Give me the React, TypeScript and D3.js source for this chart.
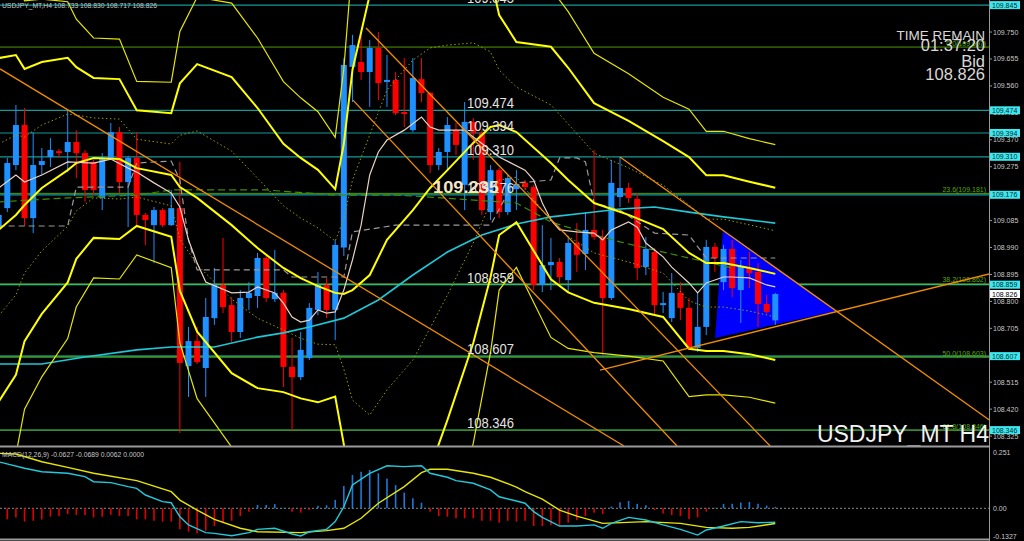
import React from "react";
import * as d3 from "d3";

// ---------- candles (H4 USDJPY) ----------
const opens = [109.059,109.129,109.281,109.422,109.094,109.281,109.309,109.330,109.327,109.362,109.323,109.292,109.165,109.306,109.397,109.221,109.306,109.105,109.069,109.122,109.069,109.129,108.572,108.660,108.565,108.741,108.858,108.787,108.692,108.812,108.819,108.953,108.808,108.830,108.569,108.533,108.600,108.770,108.858,108.770,108.990,109.627,109.644,109.609,109.694,109.574,109.581,109.468,109.404,109.584,109.535,109.281,109.327,109.404,109.211,109.433,109.394,109.115,109.263,109.115,109.196,109.218,109.203,108.858,108.928,108.939,108.875,109.006,108.967,109.052,109.027,108.812,109.168,109.200,109.161,108.921,108.974,108.787,108.741,108.830,108.777,108.636,108.710,108.992,108.868,108.985,108.840,108.918,108.904,108.791,108.733];
const highs = [109.129,109.306,109.493,109.482,109.397,109.341,109.376,109.337,109.475,109.404,109.334,109.299,109.323,109.429,109.415,109.313,109.397,109.112,109.133,109.129,109.193,109.292,108.710,108.710,108.812,108.918,109.024,108.815,108.840,108.868,108.971,108.960,108.981,108.840,108.671,108.692,108.794,108.904,108.882,109.017,109.658,109.740,109.757,109.722,109.750,109.669,109.609,109.658,109.658,109.658,109.539,109.341,109.450,109.429,109.503,109.447,109.404,109.281,109.270,109.246,109.263,109.228,109.211,109.069,109.024,108.953,109.024,109.076,109.115,109.334,109.052,109.299,109.309,109.218,109.182,109.027,108.988,108.833,108.900,108.868,108.812,108.830,109.017,109.006,108.999,109.017,108.946,108.974,108.935,108.823,108.830];
const lows = [109.045,109.115,109.263,109.066,109.041,109.246,109.274,109.306,109.256,109.235,109.151,109.175,109.122,109.299,109.182,109.062,109.062,108.999,108.935,109.062,109.066,108.336,108.463,108.579,108.463,108.717,108.759,108.657,108.671,108.770,108.777,108.798,108.798,108.498,108.346,108.523,108.593,108.752,108.741,108.664,108.960,109.503,109.581,109.486,109.510,109.486,109.457,109.415,109.397,109.503,109.253,109.263,109.263,109.316,109.122,109.299,109.105,109.087,109.094,109.105,109.122,109.193,108.840,108.833,108.840,108.865,108.833,108.904,108.911,109.017,108.611,108.805,109.133,109.147,108.875,108.893,108.752,108.759,108.727,108.734,108.629,108.622,108.681,108.904,108.840,108.815,108.724,108.847,108.710,108.756,108.717];
const closes = [109.105,109.288,109.422,109.094,109.281,109.295,109.334,109.323,109.362,109.323,109.193,109.193,109.306,109.397,109.221,109.306,109.105,109.087,109.122,109.069,109.129,108.583,108.660,108.586,108.745,108.858,108.780,108.692,108.812,108.830,108.953,108.812,108.830,108.569,108.533,108.629,108.777,108.858,108.770,108.999,109.634,109.704,109.609,109.694,109.570,109.581,109.464,109.461,109.588,109.535,109.281,109.327,109.422,109.352,109.433,109.394,109.122,109.263,109.115,109.235,109.214,109.203,108.858,108.928,108.939,108.886,109.006,108.964,109.052,109.027,108.812,109.218,109.200,109.165,108.918,108.985,108.787,108.794,108.830,108.777,108.639,108.710,108.992,108.953,108.985,108.847,108.921,108.900,108.791,108.763,108.826];

// ---------- Bollinger bands (sampled at bar indices) ----------
const bbIdx = [0,2,3,5,8,9,11,14,16,20,21,23,27,30,33,35,37,39,40,41,43,45,48,50,52,55,57,58,60,64,66,69,73,77,80,82,84,87,90];
const bbMid = [109.052,109.105,109.140,109.200,109.263,109.288,109.306,109.302,109.270,109.246,109.203,109.165,109.069,108.988,108.918,108.882,108.854,108.830,108.826,108.840,108.893,109.017,109.122,109.200,109.263,109.359,109.415,109.422,109.397,109.288,109.228,109.147,109.105,109.055,108.971,108.935,108.935,108.918,108.897];
const bbUp2 = [109.658,109.669,109.620,109.644,109.659,109.626,109.588,109.584,109.474,109.464,109.569,109.637,109.591,109.482,109.356,109.306,109.264,109.196,109.356,109.616,109.881,110.075,110.180,110.188,110.145,110.065,109.945,109.810,109.715,109.698,109.624,109.499,109.437,109.365,109.309,109.245,109.245,109.222,109.201];
const bbLo2 = [108.446,108.541,108.660,108.756,108.867,108.950,109.024,109.020,109.066,109.028,108.837,108.693,108.547,108.494,108.480,108.458,108.444,108.464,108.296,108.064,107.905,107.959,108.064,108.212,108.381,108.653,108.885,109.034,109.079,108.878,108.832,108.795,108.773,108.745,108.633,108.625,108.625,108.614,108.593];
const bbUp3 = [109.961,109.951,109.860,109.866,109.857,109.795,109.729,109.725,109.576,109.573,109.752,109.873,109.852,109.729,109.575,109.518,109.469,109.379,109.621,110.004,110.375,110.604,110.709,110.682,110.586,110.418,110.210,110.004,109.874,109.903,109.822,109.675,109.603,109.520,109.478,109.400,109.400,109.374,109.353];
const bbLo3 = [108.143,108.259,108.420,108.534,108.669,108.781,108.883,108.879,108.964,108.919,108.654,108.457,108.286,108.247,108.261,108.246,108.239,108.281,108.031,107.676,107.411,107.430,107.535,107.718,107.940,108.300,108.620,108.840,108.920,108.673,108.634,108.619,108.607,108.590,108.464,108.470,108.470,108.462,108.441];
const bbUp1 = [109.355,109.387,109.380,109.422,109.461,109.457,109.447,109.443,109.372,109.355,109.386,109.401,109.330,109.235,109.137,109.094,109.059,109.013,109.091,109.228,109.387,109.546,109.651,109.694,109.704,109.712,109.680,109.616,109.556,109.493,109.426,109.323,109.271,109.210,109.140,109.090,109.090,109.070,109.049];
const bbLo1 = [108.749,108.823,108.900,108.978,109.065,109.119,109.165,109.161,109.168,109.137,109.020,108.929,108.808,108.741,108.699,108.670,108.649,108.647,108.561,108.452,108.399,108.488,108.593,108.706,108.822,109.006,109.150,109.228,109.238,109.083,109.030,108.971,108.939,108.900,108.802,108.780,108.780,108.766,108.745];

// ---------- other moving lines ----------
const fastIdx = [0,2,3,5,8,11,13,15,16,18,20,21,22,23,24,27,29,30,32,33,34,35,36,37,38,39,40,41,42,43,44,45,47,49,50,51,54,55,57,58,61,62,63,64,65,67,69,70,71,73,74,75,77,78,80,81,82,84,85,87,89,90];
const fastMA = [109.200,109.246,109.221,109.246,109.292,109.288,109.302,109.270,109.256,109.218,109.182,109.133,109.017,108.935,108.868,108.830,108.833,108.851,108.830,108.794,108.745,108.727,108.734,108.770,108.759,108.763,108.840,108.946,109.069,109.246,109.327,109.369,109.404,109.450,109.415,109.404,109.404,109.380,109.334,109.309,109.263,109.228,109.147,109.087,109.052,109.045,109.041,109.017,109.052,109.080,109.062,109.006,108.957,108.921,108.865,108.830,108.865,108.886,108.886,108.883,108.858,108.851];
const kijunIdx = [0,8,9,15,16,20,21,22,23,33,34,40,41,46,57,59,60,64,65,67,68,69,72,76,80,82,90];
const kijun = [109.066,109.066,109.203,109.203,109.288,109.295,109.228,109.017,108.911,108.911,108.886,108.886,109.045,109.069,109.069,109.182,109.218,109.228,109.306,109.306,109.292,109.147,109.122,109.041,109.034,108.953,108.953];
const greenIdx = [0,8,16,20,31,39,46,50,60,64,67,72,76,81,85];
const greenLine = [109.151,109.165,109.175,109.193,109.193,109.175,109.175,109.168,109.147,109.080,109.052,109.010,108.981,108.946,108.918];
const cyanIdx = [0,5,10,16,20,25,30,33,36,40,44,48,52,56,60,64,68,72,76,80,84,90];
const cyanMA = [108.579,108.579,108.604,108.629,108.639,108.639,108.674,108.689,108.710,108.741,108.805,108.893,108.974,109.034,109.073,109.098,109.112,109.126,109.133,109.115,109.098,109.076];

// ---------- MACD ----------
const macdIdx = [0,3,5,8,10,11,13,15,16,17,19,20,21,22,24,25,27,29,30,32,34,35,36,38,39,40,41,43,45,47,49,50,52,53,55,57,58,60,61,62,63,65,67,69,70,71,73,75,77,79,81,82,84,86,88,90];
const macdMain = [0.210,0.181,0.165,0.158,0.143,0.120,0.116,0.098,0.090,0.060,0.030,0.025,-0.038,-0.075,-0.110,-0.113,-0.124,-0.110,-0.095,-0.090,-0.116,-0.125,-0.106,-0.095,-0.060,0.007,0.105,0.158,0.192,0.188,0.192,0.158,0.140,0.125,0.113,0.083,0.052,0.033,0.023,-0.015,-0.041,-0.080,-0.080,-0.075,-0.090,-0.068,-0.041,-0.053,-0.075,-0.095,-0.121,-0.098,-0.080,-0.060,-0.065,-0.0627];
const sigIdx = [0,2,5,8,11,16,20,21,23,25,28,30,35,38,40,42,44,47,49,50,52,55,57,60,61,63,65,67,70,75,79,82,85,87,90];
const macdSignal = [0.248,0.245,0.210,0.185,0.158,0.125,0.075,0.037,-0.008,-0.050,-0.090,-0.106,-0.110,-0.101,-0.090,-0.045,0.023,0.098,0.161,0.176,0.176,0.158,0.140,0.096,0.075,0.041,-0.008,-0.035,-0.068,-0.060,-0.068,-0.086,-0.090,-0.086,-0.0689];
const macdHist = [-0.045,-0.050,-0.041,-0.060,-0.056,-0.050,-0.038,-0.035,-0.026,-0.030,-0.030,-0.041,-0.038,-0.029,-0.035,-0.035,-0.050,-0.050,-0.056,-0.060,-0.060,-0.095,-0.105,-0.113,-0.101,-0.080,-0.065,-0.056,-0.035,-0.015,0.015,0.015,0.019,0.002,-0.015,-0.020,-0.008,0.011,0.014,0.038,0.101,0.150,0.165,0.173,0.158,0.135,0.105,0.071,0.045,0.025,-0.015,-0.035,-0.038,-0.045,-0.045,-0.045,-0.056,-0.056,-0.065,-0.056,-0.060,-0.056,-0.080,-0.080,-0.075,-0.075,-0.065,-0.053,-0.035,-0.020,-0.026,0.008,0.027,0.033,0.020,0.014,-0.008,-0.023,-0.030,-0.035,-0.048,-0.041,-0.015,0.002,0.020,0.020,0.026,0.029,0.020,0.012,0.0062];

// ---------- objects ----------
const hLevels = [109.845, 109.474, 109.394, 109.310, 109.176, 108.859, 108.607, 108.346];
const fibNames = ["0.0", "23.6", "38.2", "50.0", "61.8"];
const fibLevels = [109.697, 109.181, 108.862, 108.603, 108.346];
const axisTicks = [109.750,109.655,109.560,109.465,109.370,109.275,109.180,109.085,108.990,108.895,108.800,108.705,108.610,108.515,108.420,108.325];
const trendStartIdx = [0.155, 42.57, 41.06, 72.0, 69.69];
const trendStartPrice = [109.620, 109.764, 109.510, 109.309, 108.558];
const trendEndIdx = [72.47, 89.4, 78.61, 114.8, 114.8];
const trendEndPrice = [108.290, 108.290, 108.290, 108.382, 108.897];
const triIdx = [83.94, 83.02, 97.15];
const triPrice = [109.052, 108.671, 108.766];
const bidPrice = 108.826;

const FONT = "'Liberation Sans', Arial, sans-serif";

function zipPts(idx: number[], vals: number[]) {
  const n = Math.min(idx.length, vals.length);
  const out: [number, number][] = [];
  for (let i = 0; i < n; i++) out.push([idx[i], vals[i]]);
  return out;
}

export default function App() {
  const PR = 989; // right edge of plot
  const x = d3.scaleLinear().domain([0, 90]).range([-1.34, 775.3]);
  const y = d3.scaleLinear().domain([108.29, 109.863]).range([446, 0]);
  const ym = d3.scaleLinear().domain([-0.1327, 0.251]).range([537.7, 452.7]);

  const line = d3.line<[number, number]>().x((d) => x(d[0])).y((d) => y(d[1]));
  const mline = d3.line<[number, number]>().x((d) => x(d[0])).y((d) => ym(d[1]));

  const bbLines = [
    { v: bbMid, c: "#ffff00", w: 2 },
    { v: bbUp2, c: "#ffff00", w: 2 },
    { v: bbLo2, c: "#ffff00", w: 2 },
    { v: bbUp3, c: "#e6e600", w: 1.2 },
    { v: bbLo3, c: "#e6e600", w: 1.2 },
  ];

  const triPts = triIdx.map((t, i) => `${x(t)},${y(triPrice[i])}`).join(" ");

  return (
    <div style={{ position: "absolute", left: 0, top: 0, width: 1024, height: 541, background: "#000" }}>
      <style>{"body{margin:0;background:#000}"}</style>
      <svg width={1024} height={541} style={{ display: "block", background: "#000" }}>
        <defs>
          <clipPath id="mainClip"><rect x={0} y={0} width={PR} height={446} /></clipPath>
          <clipPath id="macdClip"><rect x={0} y={448} width={PR} height={90} /></clipPath>
        </defs>
        <rect x={0} y={0} width={1024} height={541} fill="#000" />

        <g clipPath="url(#mainClip)">
          {/* horizontal lines */}
          {hLevels.map((p, i) => (
            <line key={"h" + i} x1={0} x2={PR} y1={y(p)} y2={y(p)} stroke={p < 108.9 && p > 108.5 ? "#22c8a8" : "#159a9a"} strokeWidth={1.2} />
          ))}
          {fibLevels.map((p, i) => (
            <line key={"f" + i} x1={0} x2={PR} y1={y(p)} y2={y(p)} stroke="#4f9a00" strokeWidth={1} />
          ))}
          {fibLevels.map((p, i) => (
            <text key={"ft" + i} x={986} y={y(p) - 1.5} fill="#5aa800" fontSize={7} fontFamily={FONT} textAnchor="end">
              {`${fibNames[i]}(${p.toFixed(3)})`}
            </text>
          ))}

          {/* triangle */}
          <polygon points={triPts} fill="#0000ff" />

          {/* candles */}
          {opens.map((o, i) => {
            const c = closes[i];
            const up = c >= o;
            const col = up ? "#1e90ff" : "#ff0000";
            const cx = x(i);
            const top = y(Math.max(o, c));
            const bot = y(Math.min(o, c));
            return (
              <g key={"c" + i}>
                <line x1={cx} x2={cx} y1={y(highs[i])} y2={y(lows[i])} stroke={col} strokeWidth={1} />
                <rect x={cx - 3} y={top} width={6} height={Math.max(1, bot - top)} fill={col} />
              </g>
            );
          })}

          {/* cyan long MA */}
          <path d={line(zipPts(cyanIdx, cyanMA)) || ""} fill="none" stroke="#1ec8d8" strokeWidth={1.6} />
          {/* green dashed */}
          <path d={line(zipPts(greenIdx, greenLine)) || ""} fill="none" stroke="#3f8f00" strokeWidth={1.2} strokeDasharray="7,4" />
          {/* grey dashed */}
          <path d={line(zipPts(kijunIdx, kijun)) || ""} fill="none" stroke="#9a9a9a" strokeWidth={1.2} strokeDasharray="6,4" />
          {/* dotted 1 sigma */}
          <path d={line(zipPts(bbIdx, bbUp1)) || ""} fill="none" stroke="#9a9a00" strokeWidth={1} strokeDasharray="1.5,2.5" />
          <path d={line(zipPts(bbIdx, bbLo1)) || ""} fill="none" stroke="#9a9a00" strokeWidth={1} strokeDasharray="1.5,2.5" />
          {/* bollinger */}
          {bbLines.map((b, i) => (
            <path key={"bb" + i} d={line(zipPts(bbIdx, b.v)) || ""} fill="none" stroke={b.c} strokeWidth={b.w} />
          ))}
          {/* fast MA */}
          <path d={line(zipPts(fastIdx, fastMA)) || ""} fill="none" stroke="#e8d2c8" strokeWidth={1.2} />

          {/* trend lines */}
          {trendStartIdx.map((s, i) => (
            <line key={"t" + i} x1={x(s)} y1={y(trendStartPrice[i])} x2={x(trendEndIdx[i])} y2={y(trendEndPrice[i])} stroke="#f08c00" strokeWidth={1.3} />
          ))}

          {/* level labels */}
          {hLevels.map((p, i) => (
            <text key={"hl" + i} x={467} y={y(p) - 2} fill="#e4e4e4" fontSize={15} fontFamily={FONT} textLength={47} lengthAdjust="spacingAndGlyphs">
              {p.toFixed(3)}
            </text>
          ))}
          <text x={433} y={y(109.176) - 2} fill="#f4e6c8" fontSize={16} fontWeight="bold" fontFamily={FONT} textLength={66} lengthAdjust="spacingAndGlyphs">109.235</text>

          <text x={989} y={442} fill="#f2f2f2" fontSize={23} fontFamily={FONT} textAnchor="end">USDJPY_MT H4</text>
          <text x={985} y={40} fill="#d8d8d8" fontSize={13.5} fontFamily={FONT} textAnchor="end">TIME REMAIN</text>
          <text x={985} y={51} fill="#d8d8d8" fontSize={16.5} fontFamily={FONT} textAnchor="end">01:37:20</text>
          <text x={985} y={67} fill="#d8d8d8" fontSize={16.5} fontFamily={FONT} textAnchor="end">Bid</text>
          <text x={985} y={80} fill="#d8d8d8" fontSize={16.5} fontFamily={FONT} textAnchor="end">{bidPrice.toFixed(3)}</text>
          <text x={2} y={8} fill="#c8c8c8" fontSize={7} fontFamily={FONT} textLength={155} lengthAdjust="spacingAndGlyphs">
            {`USDJPY_MT,H4  ${opens[90].toFixed(3)} ${highs[90].toFixed(3)} ${lows[90].toFixed(3)} ${closes[90].toFixed(3)}`}
          </text>
        </g>

        {/* MACD panel */}
        <g clipPath="url(#macdClip)">
          <line x1={0} x2={PR} y1={ym(0)} y2={ym(0)} stroke="#8a8a8a" strokeWidth={1} strokeDasharray="2,2" />
          {macdHist.map((v, i) => (
            <line key={"mh" + i} x1={x(i)} x2={x(i)} y1={ym(0)} y2={ym(v)} stroke={v >= 0 ? "#1e78d8" : "#e00000"} strokeWidth={1.6} />
          ))}
          <path d={mline(zipPts(sigIdx, macdSignal)) || ""} fill="none" stroke="#e6e600" strokeWidth={1.4} />
          <path d={mline(zipPts(macdIdx, macdMain)) || ""} fill="none" stroke="#22c8dc" strokeWidth={1.4} />
          <text x={2} y={457} fill="#c8c8c8" fontSize={7} fontFamily={FONT} textLength={142} lengthAdjust="spacingAndGlyphs">
            MACD(12,26,9) -0.0627 -0.0689 0.0062 0.0000
          </text>
        </g>

        {/* frames */}
        <line x1={0} x2={PR} y1={446.5} y2={446.5} stroke="#9a9a9a" strokeWidth={2} />
        <line x1={0} x2={PR} y1={539.5} y2={539.5} stroke="#9a9a9a" strokeWidth={2} />
        <line x1={PR + 0.5} x2={PR + 0.5} y1={0} y2={541} stroke="#9a9a9a" strokeWidth={1} />

        {/* price axis */}
        {axisTicks.map((t, i) => (
          <g key={"ax" + i}>
            <line x1={PR} x2={PR + 3} y1={y(t)} y2={y(t)} stroke="#9a9a9a" />
            <text x={993} y={y(t) + 2.5} fill="#c8c8c8" fontSize={7} fontFamily={FONT}>{t.toFixed(3)}</text>
          </g>
        ))}
        {hLevels.map((p, i) => (
          <g key={"hb" + i}>
            <rect x={990} y={y(p) - 4} width={30} height={8} fill="#3ee8f0" />
            <text x={992} y={y(p) + 2.6} fill="#0a2a2a" fontSize={7} fontFamily={FONT}>{p.toFixed(3)}</text>
          </g>
        ))}
        <rect x={990} y={y(bidPrice) - 4} width={30} height={8} fill="#ffffff" />
        <text x={992} y={y(bidPrice) + 2.6} fill="#000" fontSize={7} fontFamily={FONT}>{bidPrice.toFixed(3)}</text>

        {/* MACD axis */}
        <text x={993} y={ym(0.251) + 2.5} fill="#c8c8c8" fontSize={7} fontFamily={FONT}>0.251</text>
        <text x={993} y={ym(0) + 2.5} fill="#c8c8c8" fontSize={7} fontFamily={FONT}>0.00</text>
        <text x={993} y={ym(-0.1327) + 1} fill="#c8c8c8" fontSize={7} fontFamily={FONT}>-0.1327</text>
      </svg>
    </div>
  );
}
